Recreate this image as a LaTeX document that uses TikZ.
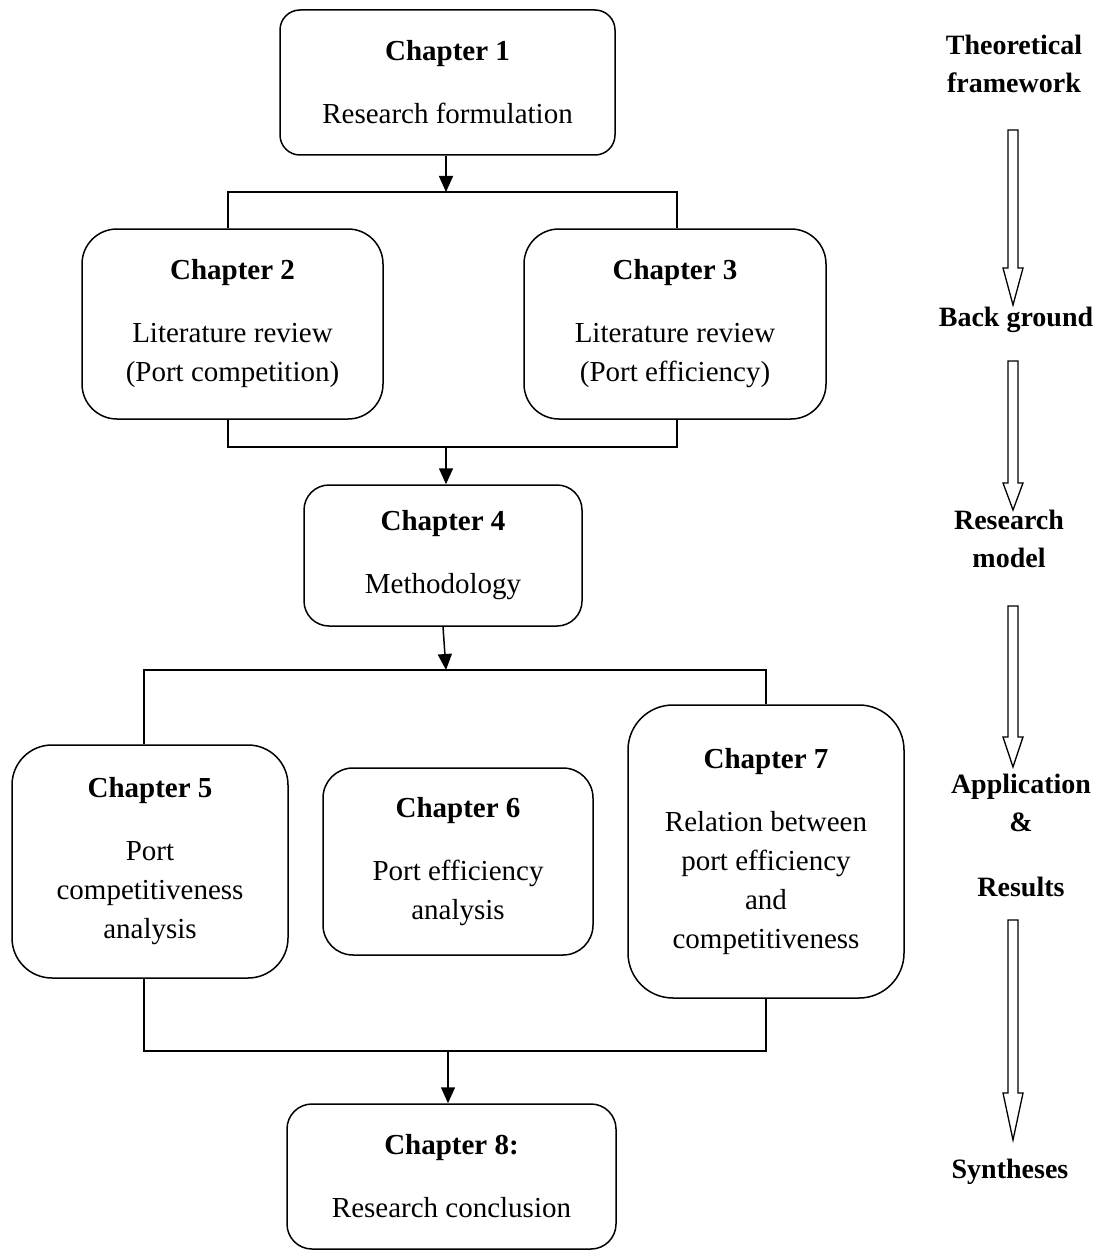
\documentclass[tikz,border=0pt]{standalone}
\usepackage{fontspec}
\setmainfont{Liberation Serif}
\usetikzlibrary{arrows.meta}

\tikzset{
	chapter/.style={draw, line width=1.5pt, rounded corners=#1, align=center, inner sep=0pt},
	link/.style={line width=1.5pt},
	linkarrow/.style={line width=1.5pt, -{Triangle[width=14pt,length=16pt]}},
	stage/.style={align=center, font=\fontsize{28}{38}\selectfont\bfseries},
	hollow/.style={draw, line width=1.3pt, fill=white}
}

\begin{document}
\begin{tikzpicture}[x=1pt, y=-1pt, font=\fontsize{29}{39}\selectfont]
					\def\xARR{1013};
					\def\gap{24pt};

					\useasboundingbox (0,0) rectangle (1106,1252);

					\begin{scope}
						\node[chapter=20pt, minimum width=335pt, minimum height=145pt] (ch1) at (447.5,82.5)
							{\textbf{Chapter 1}\\[\gap]Research formulation};
						\node[chapter=35pt, minimum width=301pt, minimum height=190pt] (ch2) at (232.5,324)
							{\textbf{Chapter 2}\\[\gap]Literature review\\(Port competition)};
						\node[chapter=35pt, minimum width=302pt, minimum height=190pt] (ch3) at (675,324)
							{\textbf{Chapter 3}\\[\gap]Literature review\\(Port efficiency)};
						\node[chapter=25pt, minimum width=278pt, minimum height=141pt] (ch4) at (443,555.5)
							{\textbf{Chapter 4}\\[\gap]Methodology};
						\node[chapter=40pt, minimum width=276pt, minimum height=233pt] (ch5) at (150,861.5)
							{\textbf{Chapter 5}\\[\gap]Port\\competitiveness\\analysis};
						\node[chapter=30pt, minimum width=270pt, minimum height=187pt] (ch6) at (458,861.5)
							{\textbf{Chapter 6}\\[\gap]Port efficiency\\analysis};
						\node[chapter=45pt, minimum width=276pt, minimum height=293pt] (ch7) at (766,851.5)
							{\textbf{Chapter 7}\\[\gap]Relation between\\port efficiency\\and\\competitiveness};
						\node[chapter=25pt, minimum width=329pt, minimum height=145pt] (ch8) at (451.5,1176.5)
							{\textbf{Chapter 8:}\\[\gap]Research conclusion};
					\end{scope}

					\begin{scope}
						\coordinate (a1) at (446,192);
						\coordinate (a2) at (446,447);
						\coordinate (a3) at (446,670);
						\coordinate (a4) at (448,1051);
						\coordinate (l2) at (228,192);
						\coordinate (r2) at (677,192);
						\coordinate (l5) at (144,670);
						\coordinate (r5) at (766,670);

						\draw[linkarrow] (ch1.south -| a1) -- (a1);
						\draw[link] (l2 |- ch2.north) -- (l2) -- (r2) -- (r2 |- ch3.north);
						\draw[link] (l2 |- ch2.south) -- (l2 |- a2) -- (r2 |- a2) -- (r2 |- ch3.south);
						\draw[linkarrow] (a2) -- (a2 |- ch4.north);
						\draw[linkarrow] (ch4.south) -- (a3);
						\draw[link] (l5 |- ch5.north) -- (l5) -- (r5) -- (ch7.north);
						\draw[link] (l5 |- ch5.south) -- (l5 |- a4) -- (r5 |- a4) -- (ch7.south);
						\draw[linkarrow] (a4) -- (a4 |- ch8.north);
					\end{scope}

					\begin{scope}
						\node[stage] (theory) at (1014,64) {Theoretical\\framework};
						\node[stage] (ground) at (1016,320) {Back ground};
						\node[stage] (model) at (1009,539) {Research\\model};
						\node[stage] (appl) at (1021,803) {Application\\\&};
						\node[stage] (result) at (1021,887) {Results};
						\node[stage] (synth) at (1010,1172) {Syntheses};

						\foreach \top/\hs/\tip in {130/268/305, 361/483/510, 606/737/767, 920/1093/1140}
						{
							\draw[hollow] (\xARR-5,\top) -- (\xARR+5,\top) -- (\xARR+5,\hs) -- (\xARR+10,\hs)
								-- (\xARR,\tip) -- (\xARR-10,\hs) -- (\xARR-5,\hs) -- cycle;
						}
					\end{scope}
				\end{tikzpicture}
\end{document}
